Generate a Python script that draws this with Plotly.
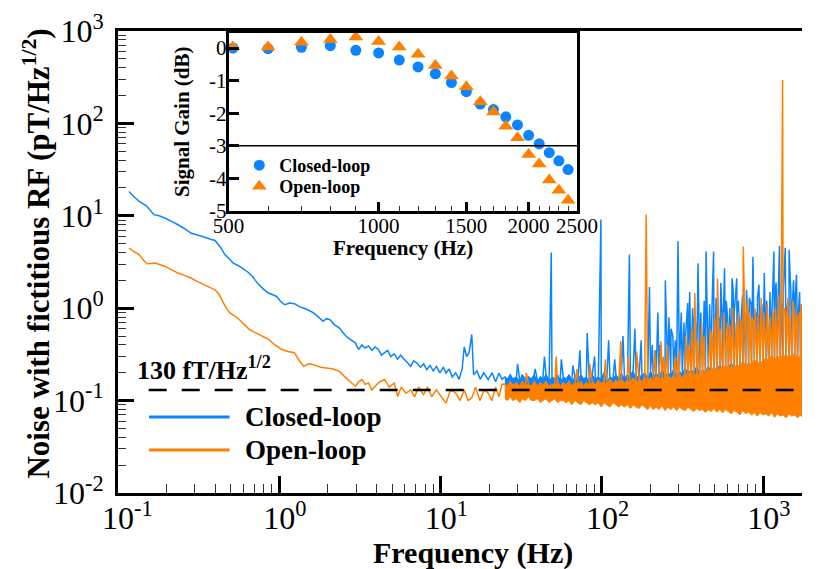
import plotly.graph_objects as go

BLUE = "#0a84ff"
ORANGE = "#ff8000"
FONT = "Liberation Serif"

# ---------------- main spectrum data (Hz, pT/Hz^1/2) ----------------
BLUE_SMOOTH_F = [0.117, 0.126, 0.1355, 0.15, 0.1667, 0.18, 0.196, 0.215, 0.2355, 0.26,
                 0.283, 0.31, 0.341, 0.37, 0.40, 0.43, 0.46, 0.49, 0.516, 0.553,
                 0.593, 0.64, 0.681, 0.71, 0.746, 0.80, 0.857, 0.91, 0.962, 1.02,
                 1.08, 1.16, 1.24, 1.33, 1.42, 1.52, 1.63, 1.75, 1.87, 1.96,
                 2.06, 2.2, 2.36, 2.47, 2.59, 2.75, 2.97, 3.04, 3.11, 3.25,
                 3.4, 3.57, 3.75, 3.92, 4.10, 4.3, 4.50, 4.7, 4.9, 5.16,
                 5.4, 5.65, 5.93, 6.2, 6.52, 6.8, 7.14, 7.5, 7.85, 8.2,
                 8.6, 9.0, 9.42, 9.9, 10.4, 10.8, 11.3, 11.8, 12.4, 13.0,
                 13.6, 14.0, 14.5, 15.0, 15.6, 16.0, 16.8, 17.6, 18.5, 19.7,
                 20.8, 21.9, 23.0, 24.0]
BLUE_SMOOTH_V = [18.3, 16.0, 14.3, 12.8, 10.3, 10.0, 9.4, 8.7, 8.0, 7.2,
                 6.5, 6.2, 5.9, 5.6, 5.4, 4.6, 3.8, 3.4, 3.1, 2.9,
                 2.7, 2.45, 2.2, 2.0, 1.8, 1.6, 1.46, 1.40, 1.34, 1.18,
                 1.09, 1.14, 1.12, 1.04, 1.0, 0.95, 0.89, 0.80, 0.72, 0.77,
                 0.75, 0.66, 0.61, 0.55, 0.50, 0.46, 0.42, 0.38, 0.36, 0.40,
                 0.37, 0.39, 0.35, 0.38, 0.36, 0.31, 0.33, 0.35, 0.30, 0.32,
                 0.28, 0.31, 0.28, 0.26, 0.235, 0.27, 0.255, 0.23, 0.25, 0.216,
                 0.24, 0.21, 0.235, 0.20, 0.23, 0.199, 0.22, 0.18, 0.20, 0.17,
                 0.22, 0.38, 0.30, 0.33, 0.52, 0.19, 0.21, 0.17, 0.20, 0.169,
                 0.20, 0.16, 0.199, 0.17]

ORANGE_SMOOTH_F = [0.117, 0.126, 0.1355, 0.144, 0.152, 0.1706, 0.196, 0.215, 0.2355, 0.26,
                   0.283, 0.31, 0.341, 0.37, 0.40, 0.425, 0.45, 0.47, 0.493, 0.53,
                   0.566, 0.61, 0.65, 0.70, 0.746, 0.80, 0.857, 0.94, 1.03, 1.13,
                   1.24, 1.33, 1.42, 1.52, 1.63, 1.8, 1.96, 2.15, 2.36, 2.47,
                   2.59, 2.75, 2.97, 3.1, 3.26, 3.4, 3.57, 3.75, 3.92, 4.2,
                   4.5, 4.8, 5.16, 5.41, 5.7, 6.1, 6.52, 6.9, 7.3, 7.83,
                   8.3, 8.8, 9.42, 10.1, 10.8, 11.5, 12.4, 13.2, 14.0, 14.8,
                   15.6, 16.5, 17.5, 18.6, 19.7, 20.8, 21.9, 23.0, 24.0]
ORANGE_SMOOTH_V = [4.47, 4.1, 3.78, 3.3, 3.03, 3.08, 2.83, 2.6, 2.40, 2.25,
                   2.12, 1.95, 1.80, 1.68, 1.58, 1.40, 1.14, 1.0, 0.89, 0.82,
                   0.75, 0.66, 0.59, 0.55, 0.52, 0.49, 0.46, 0.40, 0.36, 0.34,
                   0.33, 0.27, 0.235, 0.25, 0.245, 0.23, 0.225, 0.22, 0.207, 0.19,
                   0.176, 0.16, 0.143, 0.16, 0.169, 0.15, 0.155, 0.13, 0.143, 0.16,
                   0.169, 0.14, 0.155, 0.111, 0.14, 0.12, 0.131, 0.11, 0.14, 0.116,
                   0.14, 0.11, 0.131, 0.11, 0.094, 0.13, 0.121, 0.10, 0.13, 0.10,
                   0.107, 0.14, 0.10, 0.13, 0.121, 0.10, 0.14, 0.11, 0.15]

# noise band (25 Hz and up): upper / lower envelope of the dense trace
NOISY_F = [25, 26, 27, 28, 29.5, 31, 32, 33.5, 35, 36.5,
           38, 40, 41.5, 43, 45, 47, 49, 51, 53, 55,
           57.5, 60, 62.5, 65, 68, 71, 74, 77, 80, 83.5,
           87, 91, 95, 99, 103, 107, 112, 117, 122, 127,
           132, 138, 144, 150, 156, 163, 170, 177, 184, 192,
           200, 208, 217, 226, 236, 246, 256, 267, 278, 290,
           302, 315, 328, 342, 356, 371, 387, 403, 420, 438,
           456, 475, 495, 516, 538, 560, 584, 608, 634, 660,
           688, 717, 747, 778, 811, 845, 880, 917, 956, 996,
           1038, 1081, 1127, 1174, 1223, 1275, 1328, 1384, 1442, 1503,
           1566, 1632, 1700, 1740]
BLUE_UPPER = [0.18, 0.17, 0.19, 0.17, 0.18, 0.16, 0.19, 0.17, 0.18, 0.17,
              0.19, 0.16, 0.18, 0.17, 0.19, 0.16, 0.18, 0.17, 0.19, 0.16,
              0.18, 0.17, 0.19, 0.16, 0.18, 0.17, 0.19, 0.17, 0.18, 0.16,
              0.19, 0.17, 0.18, 0.17, 0.20, 0.16, 0.18, 0.17, 0.19, 0.17,
              0.20, 0.17, 0.19, 0.18, 0.21, 0.17, 0.19, 0.18, 0.20, 0.17,
              0.21, 0.18, 0.20, 0.18, 0.22, 0.18, 0.20, 0.19, 0.22, 0.18,
              0.21, 0.19, 0.23, 0.19, 0.22, 0.20, 0.24, 0.19, 0.22, 0.20,
              0.24, 0.20, 0.23, 0.21, 0.25, 0.21, 0.24, 0.22, 0.26, 0.21,
              0.25, 0.22, 0.27, 0.23, 0.26, 0.24, 0.28, 0.23, 0.27, 0.25,
              0.29, 0.24, 0.30, 0.26, 0.31, 0.25, 0.30, 0.27, 0.32, 0.26,
              0.30, 0.27, 0.31, 0.28]
BLUE_LOWER = [0.125, 0.13, 0.12, 0.13, 0.125, 0.12, 0.13, 0.12, 0.125, 0.12,
              0.12, 0.125, 0.115, 0.12, 0.125, 0.115, 0.12, 0.125, 0.115, 0.12,
              0.12, 0.115, 0.12, 0.11, 0.12, 0.115, 0.12, 0.11, 0.115, 0.12,
              0.11, 0.115, 0.105, 0.115, 0.11, 0.105, 0.115, 0.11, 0.105, 0.11,
              0.11, 0.10, 0.11, 0.105, 0.10, 0.11, 0.10, 0.105, 0.10, 0.11,
              0.10, 0.105, 0.095, 0.10, 0.105, 0.095, 0.10, 0.095, 0.10, 0.09,
              0.10, 0.095, 0.09, 0.10, 0.095, 0.09, 0.10, 0.09, 0.095, 0.09,
              0.095, 0.09, 0.085, 0.095, 0.09, 0.085, 0.09, 0.085, 0.09, 0.08,
              0.09, 0.085, 0.08, 0.09, 0.085, 0.08, 0.085, 0.078, 0.085, 0.08,
              0.08, 0.075, 0.082, 0.072, 0.08, 0.075, 0.07, 0.078, 0.072, 0.08,
              0.075, 0.07, 0.078, 0.072]
ORANGE_UPPER = [0.15, 0.14, 0.16, 0.145, 0.155, 0.14, 0.16, 0.145, 0.15, 0.14,
                0.16, 0.14, 0.155, 0.145, 0.16, 0.14, 0.15, 0.145, 0.16, 0.14,
                0.155, 0.145, 0.16, 0.14, 0.155, 0.15, 0.16, 0.14, 0.155, 0.145,
                0.16, 0.145, 0.165, 0.15, 0.16, 0.145, 0.17, 0.15, 0.165, 0.15,
                0.17, 0.15, 0.165, 0.155, 0.175, 0.15, 0.17, 0.155, 0.18, 0.16,
                0.175, 0.16, 0.185, 0.165, 0.18, 0.165, 0.19, 0.17, 0.185, 0.17,
                0.195, 0.17, 0.20, 0.18, 0.21, 0.18, 0.20, 0.19, 0.22, 0.19,
                0.22, 0.20, 0.24, 0.20, 0.23, 0.21, 0.25, 0.22, 0.24, 0.22,
                0.25, 0.22, 0.27, 0.23, 0.26, 0.24, 0.28, 0.24, 0.27, 0.25,
                0.30, 0.26, 0.32, 0.27, 0.31, 0.28, 0.33, 0.27, 0.32, 0.29,
                0.33, 0.28, 0.31, 0.29]
ORANGE_LOWER = [0.105, 0.10, 0.11, 0.10, 0.105, 0.095, 0.105, 0.10, 0.11, 0.10,
                0.10, 0.105, 0.095, 0.10, 0.105, 0.095, 0.10, 0.105, 0.095, 0.10,
                0.10, 0.095, 0.10, 0.09, 0.10, 0.095, 0.09, 0.10, 0.095, 0.09,
                0.095, 0.09, 0.095, 0.085, 0.095, 0.09, 0.085, 0.095, 0.09, 0.085,
                0.09, 0.085, 0.09, 0.082, 0.09, 0.085, 0.082, 0.09, 0.085, 0.08,
                0.088, 0.08, 0.085, 0.08, 0.088, 0.078, 0.085, 0.08, 0.085, 0.078,
                0.085, 0.08, 0.078, 0.085, 0.08, 0.076, 0.082, 0.078, 0.08, 0.075,
                0.08, 0.076, 0.082, 0.075, 0.08, 0.074, 0.08, 0.076, 0.072, 0.078,
                0.075, 0.07, 0.078, 0.072, 0.075, 0.07, 0.074, 0.068, 0.074, 0.07,
                0.072, 0.068, 0.074, 0.066, 0.072, 0.068, 0.07, 0.065, 0.072, 0.068,
                0.07, 0.065, 0.07, 0.066]

BLUE_SPIKE_F = [30, 38.5, 44, 48.5, 56, 66, 73, 81, 90, 98.5,
                110, 120, 135, 148, 160, 175, 197, 205, 222, 247,
                260, 275, 296, 310, 322, 340, 350, 365, 380, 394,
                410, 430, 442, 465, 492, 510, 530, 545, 555, 575,
                590, 620, 640, 650, 685, 700, 730, 760, 787, 820,
                863, 900, 940, 980, 1014, 1100, 1164, 1200, 1260, 1300,
                1368, 1400, 1446, 1480, 1540, 1607, 1680, 1720,
                215, 228, 268, 285, 330, 372, 400, 450, 480, 520,
                565, 600, 660.5, 710, 745, 800, 840, 880.5, 920, 960,
                1050, 1130, 1180, 1230, 1330.5, 1420, 1510, 1580, 1650, 1735]
BLUE_SPIKE_V = [0.25, 0.22, 0.30, 4.0, 0.28, 0.24, 0.35, 0.54, 0.30, 9.1,
                0.45, 0.28, 0.50, 3.8, 0.60, 0.45, 1.7, 0.40, 0.90, 2.0,
                0.80, 0.50, 5.3, 0.90, 0.70, 1.14, 1.5, 1.0, 0.70, 3.07,
                0.90, 1.2, 4.1, 1.1, 4.1, 1.3, 0.8, 1.87, 0.9, 2.7,
                1.2, 1.0, 2.1, 1.6, 2.1, 1.2, 0.8, 1.0, 1.58, 1.3,
                3.6, 0.9, 1.8, 1.1, 2.4, 1.5, 4.1, 1.9, 4.7, 1.2,
                4.5, 0.9, 4.3, 1.6, 2.0, 2.3, 1.5, 1.0,
                0.35, 0.40, 0.60, 0.45, 0.50, 0.80, 0.60, 0.70, 0.90, 0.60,
                0.70, 0.80, 0.90, 0.70, 1.4, 0.90, 1.1, 0.80, 1.3, 0.90,
                1.2, 0.80, 1.3, 0.90, 1.6, 1.2, 1.0, 1.4, 0.90, 1.1]

ORANGE_SPIKE_F = [34, 52, 70, 84, 105, 131, 145, 164, 188, 212,
                  232, 255, 285, 330, 360, 376, 415, 470, 500, 520,
                  570, 600, 645, 700, 752, 800, 850, 890, 970, 1060,
                  1150, 1240, 1318, 1350, 1420, 1520, 1600, 1710,
                  240, 300, 345, 390, 430, 480, 540, 620, 680, 725,
                  780.5, 820, 870, 930, 1010, 1100, 1190, 1290, 1380, 1460,
                  1550, 1640, 1690, 1730]
ORANGE_SPIKE_V = [0.20, 0.30, 0.22, 0.25, 0.28, 0.44, 0.30, 0.34, 10.3, 0.35,
                  0.44, 0.40, 0.30, 0.50, 0.60, 1.46, 0.70, 0.60, 0.80, 2.1,
                  0.90, 0.70, 1.0, 0.90, 4.66, 1.2, 0.80, 1.0, 1.3, 1.1,
                  0.9, 1.4, 295, 1.0, 1.3, 1.2, 0.9, 1.1,
                  0.30, 0.35, 0.40, 0.45, 0.50, 0.55, 0.60, 0.65, 0.70, 0.75,
                  0.80, 0.90, 0.70, 0.85, 0.90, 0.80, 1.0, 0.75, 0.90, 0.80,
                  1.0, 0.80, 0.90, 0.70]

NOISE_LEVEL = 0.13          # 130 fT/Hz^1/2
NOISE_F_START = 0.155
NOISE_F_END = 1740

# ---------------- inset data ----------------
GAIN_F = [510, 600, 700, 800, 900, 1000, 1100, 1200, 1300, 1400,
          1500, 1600, 1700, 1800, 1900, 2000, 2100, 2200, 2300, 2400]
GAIN_CLOSED = [0.0, -0.02, 0.02, 0.07, -0.07, -0.15, -0.37, -0.58, -0.79, -1.06,
               -1.34, -1.72, -1.89, -2.11, -2.36, -2.68, -2.94, -3.21, -3.46, -3.73]
GAIN_OPEN = [0.03, 0.03, 0.18, 0.26, 0.34, 0.20, 0.03, -0.19, -0.54, -0.86,
             -1.19, -1.65, -1.96, -2.40, -2.75, -3.27, -3.56, -4.05, -4.36, -4.67]
REF_DB = -3

MAIN_XTICKS = [0.1, 1, 10, 100, 1000]
MAIN_XEXP = ["-1", "0", "1", "2", "3"]
MAIN_YTICKS = [0.01, 0.1, 1, 10, 100, 1000]
MAIN_YEXP = ["-2", "-1", "0", "1", "2", "3"]
INSET_XTICKS = [500, 1000, 1500, 2000, 2500]
INSET_YTICKS = [0, -1, -2, -3, -4, -5]

# x labels: an invisible copy of the exponent on the left keeps "10" centred on the tick
MAIN_XTEXT = ['<span style="color:rgba(0,0,0,0)"><sup>%s</sup></span>10<sup>%s</sup>' % (e, e)
              for e in MAIN_XEXP]
MAIN_YTEXT = ["10<sup>%s</sup>" % e for e in MAIN_YEXP]


def merge(*pairs):
    pts = []
    for f, v in pairs:
        pts.extend(zip(f, v))
    pts.sort(key=lambda p: p[0])
    return [p[0] for p in pts], [p[1] for p in pts]


bx, by = merge((BLUE_SMOOTH_F, BLUE_SMOOTH_V), (NOISY_F, BLUE_UPPER), (BLUE_SPIKE_F, BLUE_SPIKE_V))
ox, oy = merge((ORANGE_SMOOTH_F, ORANGE_SMOOTH_V), (NOISY_F, ORANGE_UPPER), (ORANGE_SPIKE_F, ORANGE_SPIKE_V))

fig = go.Figure()


def add_band(lower, upper, color, name):
    fig.add_trace(go.Scatter(x=NOISY_F, y=lower, mode="lines", name=name, showlegend=False,
                             line=dict(color=color, width=1, simplify=False), xaxis="x", yaxis="y",
                             hoverinfo="skip"))
    fig.add_trace(go.Scatter(x=NOISY_F, y=upper, mode="lines", name=name, showlegend=False,
                             fill="tonexty", fillcolor=color,
                             line=dict(color=color, width=1, simplify=False), xaxis="x", yaxis="y",
                             hoverinfo="skip"))


add_band(BLUE_LOWER, BLUE_UPPER, BLUE, "Closed-loop")
fig.add_trace(go.Scatter(x=bx, y=by, mode="lines", name="Closed-loop", showlegend=False,
                         line=dict(color=BLUE, width=1.5, simplify=False), xaxis="x", yaxis="y"))
add_band(ORANGE_LOWER, ORANGE_UPPER, ORANGE, "Open-loop")
fig.add_trace(go.Scatter(x=ox, y=oy, mode="lines", name="Open-loop", showlegend=False,
                         line=dict(color=ORANGE, width=1.5, simplify=False), xaxis="x", yaxis="y"))
fig.add_trace(go.Scatter(x=[NOISE_F_START, NOISE_F_END], y=[NOISE_LEVEL, NOISE_LEVEL], mode="lines",
                         showlegend=False, line=dict(color="black", width=2.5, dash="18px,15px"),
                         xaxis="x", yaxis="y"))

fig.add_trace(go.Scatter(x=GAIN_F, y=GAIN_CLOSED, mode="markers", name="Closed-loop",
                         marker=dict(symbol="circle", size=11, color=BLUE), cliponaxis=False,
                         xaxis="x2", yaxis="y2", legend="legend"))
fig.add_trace(go.Scatter(x=GAIN_F, y=GAIN_OPEN, mode="markers", name="Open-loop",
                         marker=dict(symbol="triangle-up", size=13, color=ORANGE), cliponaxis=False,
                         xaxis="x2", yaxis="y2", legend="legend2"))

W, H = 823, 569
L, R, T, B = 118, 0, 31, 76
PW, PH = W - L - R, H - T - B


def px(x):
    return (x - L) / PW


def py(y):
    return (H - B - y) / PH


main_minor_x = [m * 10.0 ** e for e in range(-1, 4) for m in range(2, 10)]
main_minor_y = [m * 10.0 ** e for e in range(-2, 3) for m in range(2, 10)]
inset_minor_x = [f for f in range(600, 2500, 100) if f not in INSET_XTICKS]

axis_common = dict(showgrid=False, zeroline=False, showline=True, linecolor="black",
                   ticks="inside", tickcolor="black")
legend_common = dict(xanchor="left", yanchor="top", bgcolor="rgba(0,0,0,0)",
                     font=dict(family=FONT, size=18, weight="bold"), itemwidth=30)

fig.update_layout(
    width=W, height=H,
    margin=dict(l=L, r=R, t=T, b=B),
    paper_bgcolor="white", plot_bgcolor="white",
    font=dict(family=FONT, color="black"),
    xaxis=dict(type="log", range=[-1, 3.24], domain=[0, 1], anchor="y",
               tickmode="array", tickvals=MAIN_XTICKS, ticktext=MAIN_XTEXT,
               ticklen=17, tickwidth=3, linewidth=3, mirror=True,
               tickfont=dict(family=FONT, size=32), ticklabelstandoff=-5,
               minor=dict(tickmode="array", tickvals=main_minor_x, ticks="inside",
                          ticklen=9, tickwidth=1, tickcolor="#333", showgrid=False),
               **axis_common),
    yaxis=dict(type="log", range=[-2, 3], domain=[0, 1], anchor="x",
               tickmode="array", tickvals=MAIN_YTICKS, ticktext=MAIN_YTEXT,
               ticklen=16, tickwidth=3, linewidth=3, mirror=False,
               tickfont=dict(family=FONT, size=32), ticklabelstandoff=5,
               minor=dict(tickmode="array", tickvals=main_minor_y, ticks="inside",
                          ticklen=8, tickwidth=1, tickcolor="#333", showgrid=False),
               **axis_common),
    xaxis2=dict(type="log", range=[2.69897, 3.39794], domain=[px(232), px(591)], anchor="y2",
                tickmode="array", tickvals=INSET_XTICKS, ticktext=[str(v) for v in INSET_XTICKS],
                ticklen=9, tickwidth=2.5, linewidth=3, mirror=True,
                tickfont=dict(family=FONT, size=21), ticklabelstandoff=-6,
                minor=dict(tickmode="array", tickvals=inset_minor_x, ticks="inside",
                           ticklen=5, tickwidth=1, tickcolor="#333", showgrid=False),
                **axis_common),
    yaxis2=dict(range=[-5, 0.46], domain=[py(211), py(33)], anchor="x2",
                tickmode="array", tickvals=INSET_YTICKS, ticktext=[str(v) for v in INSET_YTICKS],
                ticklen=10, tickwidth=3, linewidth=3, mirror=True,
                tickfont=dict(family=FONT, size=21), ticklabelstandoff=-5,
                **axis_common),
    legend=dict(x=px(243), y=py(147), **legend_common),
    legend2=dict(x=px(243), y=py(168), **legend_common),
    shapes=[
        dict(type="line", xref="x2 domain", yref="y2", x0=0, x1=1, y0=REF_DB, y1=REF_DB,
             line=dict(color="black", width=1.5)),
        dict(type="line", xref="paper", yref="paper", x0=px(150), x1=px(233), y0=py(417), y1=py(417),
             line=dict(color=BLUE, width=3)),
        dict(type="line", xref="paper", yref="paper", x0=px(150), x1=px(233), y0=py(450), y1=py(450),
             line=dict(color=ORANGE, width=3)),
    ],
    annotations=[
        dict(text="<b>Frequency (Hz)</b>", xref="paper", yref="paper", x=px(484), y=py(553),
             showarrow=False, xanchor="center", yanchor="middle", font=dict(size=30)),
        dict(text="<b>Noise with fictitious RF (pT/Hz<sup>1/2</sup>)</b>", xref="paper", yref="paper",
             x=px(33), y=py(254), textangle=-90, showarrow=False, xanchor="center", yanchor="middle",
             font=dict(size=31)),
        dict(text="<b>130 fT/Hz<sup>1/2</sup></b>", xref="paper", yref="paper", x=px(136), y=py(368),
             showarrow=False, xanchor="left", yanchor="middle", font=dict(size=26)),
        dict(text="<b>Closed-loop</b>", xref="paper", yref="paper", x=px(247), y=py(417),
             showarrow=False, xanchor="left", yanchor="middle", font=dict(size=27)),
        dict(text="<b>Open-loop</b>", xref="paper", yref="paper", x=px(247), y=py(450),
             showarrow=False, xanchor="left", yanchor="middle", font=dict(size=27)),
        dict(text="<b>Signal Gain (dB)</b>", xref="paper", yref="paper", x=px(184), y=py(122),
             textangle=-90, showarrow=False, xanchor="center", yanchor="middle", font=dict(size=21)),
        dict(text="<b>Frequency (Hz)</b>", xref="paper", yref="paper", x=px(412), y=py(248),
             showarrow=False, xanchor="center", yanchor="middle", font=dict(size=21)),
    ],
)

fig.write_html("out.html", config={"displayModeBar": False},
               post_script="document.body.style.margin='0px';")
